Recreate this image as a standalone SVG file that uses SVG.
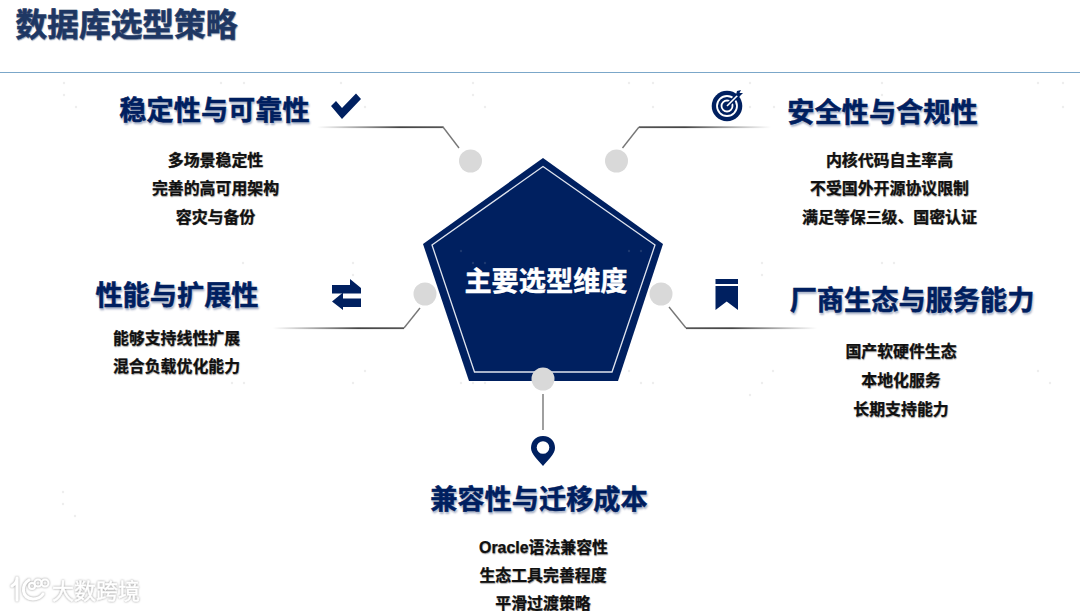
<svg xmlns="http://www.w3.org/2000/svg" width="1080" height="611" viewBox="0 0 1080 611">
<style>
text{font-family:"Liberation Sans","Noto Sans CJK SC",sans-serif;font-weight:700;text-anchor:middle}
.h{font-size:27.2px;fill:#002060;stroke:#002060;stroke-width:.5;text-shadow:1px 1.5px 2px rgba(0,32,96,.3)}
.b{font-size:15.9px;fill:#111;stroke:#111;stroke-width:.25;text-shadow:.5px .5px 1px rgba(0,0,0,.3)}
.d{fill:#eeeeee}
.dd{fill:#1d3a70}
.n{fill:#d9d9d9}
.i{fill:#002060}
.s{stroke:#777;stroke-width:1.4;fill:none}
.w{fill:none;stroke:#fff;stroke-width:3;stroke-linecap:round;stroke-linejoin:round}
</style>
<defs>
<linearGradient id="gl" x1="0" x2="1" y1="0" y2="0"><stop offset="0" stop-color="#555" stop-opacity="0"/><stop offset=".65" stop-color="#444"/><stop offset="1" stop-color="#555"/></linearGradient>
<linearGradient id="gr" x1="0" x2="1" y1="0" y2="0"><stop offset="0" stop-color="#555"/><stop offset=".35" stop-color="#444"/><stop offset="1" stop-color="#555" stop-opacity="0"/></linearGradient>
<filter id="wm" x="-10%" y="-30%" width="120%" height="160%"><feGaussianBlur in="SourceAlpha" stdDeviation="1.1" result="b"/><feFlood flood-color="#8f8f8f"/><feComposite in2="b" operator="in" result="g"/><feMerge><feMergeNode in="g"/><feMergeNode in="SourceGraphic"/></feMerge></filter>
</defs>
<rect width="1080" height="611" fill="#fff"/>
<g id="dots" class="d">
<circle cx="64" cy="83" r="1.2"/><circle cx="64" cy="95" r="1.2"/><circle cx="76" cy="107" r="1.2"/><circle cx="221" cy="83" r="1.2"/><circle cx="244" cy="83" r="1.2"/><circle cx="341" cy="83" r="1.2"/><circle cx="365" cy="107" r="1.2"/><circle cx="473" cy="83" r="1.2"/><circle cx="473" cy="95" r="1.2"/><circle cx="485" cy="107" r="1.2"/><circle cx="629" cy="83" r="1.2"/><circle cx="653" cy="83" r="1.2"/><circle cx="750" cy="83" r="1.2"/><circle cx="653" cy="107" r="1.2"/><circle cx="750" cy="107" r="1.2"/><circle cx="774" cy="107" r="1.2"/><circle cx="882" cy="83" r="1.2"/><circle cx="882" cy="95" r="1.2"/><circle cx="1038" cy="83" r="1.2"/><circle cx="1063" cy="83" r="1.2"/><circle cx="1063" cy="107" r="1.2"/>
<circle cx="243" cy="263" r="1.2"/><circle cx="353" cy="263" r="1.2"/><circle cx="353" cy="275" r="1.2"/><circle cx="365" cy="371" r="1.2"/><circle cx="232" cy="383" r="1.2"/><circle cx="244" cy="383" r="1.2"/><circle cx="353" cy="383" r="1.2"/>
<circle cx="762" cy="263" r="1.2"/><circle cx="882" cy="263" r="1.2"/><circle cx="894" cy="263" r="1.2"/><circle cx="762" cy="275" r="1.2"/><circle cx="773" cy="371" r="1.2"/><circle cx="762" cy="383" r="1.2"/><circle cx="750" cy="395" r="1.2"/><circle cx="1038" cy="371" r="1.2"/><circle cx="1050" cy="383" r="1.2"/>
<circle cx="63" cy="492" r="1.2"/><circle cx="63" cy="504" r="1.2"/><circle cx="75" cy="516" r="1.2"/>
<circle cx="461" cy="383" r="1.2"/><circle cx="473" cy="383" r="1.2"/><circle cx="485" cy="383" r="1.2"/><circle cx="629" cy="371" r="1.2"/><circle cx="641" cy="383" r="1.2"/><circle cx="653" cy="383" r="1.2"/>
</g>
<g id="header">
<text x="126.500" y="36" font-size="31.700" style="fill:#1f3864;stroke:#1f3864;stroke-width:.6;text-shadow:.5px .5px 1px rgba(31,56,100,.4)">数据库选型策略</text>
<rect x="0" y="72" width="1080" height="1" fill="#7ba7c9"/>
</g>
<g id="connectors">
<rect x="317" y="126.300" width="126.500" height="1.800" fill="url(#gl)"/>
<path class="s" d="M443 127L459 148"/>
<rect x="639" y="126.300" width="132" height="1.800" fill="url(#gr)"/>
<path class="s" d="M639 127L622.500 148"/>
<rect x="273" y="327.300" width="131" height="1.800" fill="url(#gl)"/>
<path class="s" d="M404 328L420 308"/>
<rect x="686" y="327.300" width="131" height="1.800" fill="url(#gr)"/>
<path class="s" d="M686 328L669 307"/>
<path class="s" d="M543 394V430"/>
</g>
<g id="center">
<polygon points="543,158 663,244 618,381 469,381 423,244" fill="#002060"/>
<polygon points="543,166.500 655,245 612,372 474.500,372 432,245" fill="none" stroke="#dfe4ee" stroke-width="1.300"/>
<g class="dd"><circle cx="461" cy="251" r="1.200"/><circle cx="473" cy="263" r="1.200"/><circle cx="485" cy="263" r="1.200"/><circle cx="629" cy="251" r="1.200"/><circle cx="641" cy="251" r="1.200"/></g>
<text x="546" y="291" font-size="27.200" fill="#fff" stroke="#fff" stroke-width=".4">主要选型维度</text>
</g>
<g id="node-stability">
<circle class="n" cx="470.500" cy="161" r="11.500"/>
<text class="h" x="214.500" y="120">稳定性与可靠性</text>
<path class="i" d="M331 106L336 101L342 108L356 93.500L361 99L342 119Z"/>
<text class="b" x="215.500" y="165.500">多场景稳定性</text>
<text class="b" x="215.500" y="194">完善的高可用架构</text>
<text class="b" x="215.500" y="222.500">容灾与备份</text>
</g>
<g id="node-security">
<circle class="n" cx="616.500" cy="161" r="11.500"/>
<circle class="i" cx="727" cy="106" r="15.300"/>
<circle cx="727" cy="106" r="10" fill="none" stroke="#fff" stroke-width="1.800"/>
<circle cx="727" cy="106" r="5.500" fill="none" stroke="#fff" stroke-width="1.800"/>
<path d="M727 106L738 95" stroke="#002060" stroke-width="4.500" fill="none"/>
<path d="M727 106L739 94" stroke="#fff" stroke-width="1.600" fill="none"/>
<path class="i" d="M736 95L737 91L741 90L739.500 93L743 93L739 97Z"/>
<text class="h" x="882.500" y="122">安全性与合规性</text>
<text class="b" x="889.500" y="165.500">内核代码自主率高</text>
<text class="b" x="889.500" y="194">不受国外开源协议限制</text>
<text class="b" x="889.500" y="222.500">满足等保三级、国密认证</text>
</g>
<g id="node-performance">
<circle class="n" cx="425" cy="294" r="11.500"/>
<text class="h" x="177" y="305">性能与扩展性</text>
<path class="i" d="M332 285H350V279L361 288V293.500H332Z"/>
<path class="i" d="M332 301.500L343 292.500V298.500H361V307H343V310Z"/>
<text class="b" x="176.500" y="344">能够支持线性扩展</text>
<text class="b" x="176.500" y="372">混合负载优化能力</text>
</g>
<g id="node-vendor">
<circle class="n" cx="661" cy="294" r="11.500"/>
<path class="i" d="M715.500 279H738V284H715.500ZM715.500 286H738V310L726.700 301.500L715.500 310Z"/>
<text class="h" x="912" y="310">厂商生态与服务能力</text>
<text class="b" x="901" y="357">国产软硬件生态</text>
<text class="b" x="901" y="386">本地化服务</text>
<text class="b" x="901" y="415">长期支持能力</text>
</g>
<g id="node-compat">
<circle class="n" cx="543" cy="379" r="11.500"/>
<path class="i" d="M543 436C551 436 555 442 555 448C555 454 548 460 543 466C538 460 531 454 531 448C531 442 535 436 543 436Z"/>
<circle cx="543" cy="447.500" r="6.300" fill="#fff"/>
<text class="h" x="539" y="509">兼容性与迁移成本</text>
<text class="b" x="543.500" y="553">Oracle语法兼容性</text>
<text class="b" x="543" y="581">生态工具完善程度</text>
<text class="b" x="543" y="609">平滑过渡策略</text>
</g>
<g id="watermark" filter="url(#wm)">
<path class="w" d="M12 586C17 583 17 580 17 578V600M29 580C21 585 21 598 33 599C38 599 41 597 43 594"/>
<circle class="w" cx="32" cy="586" r="3" style="stroke-width:2"/>
<circle class="w" cx="38" cy="583" r="3.500" style="stroke-width:2"/>
<circle class="w" cx="45" cy="583" r="3.500" style="stroke-width:2"/>
<text x="96" y="599" font-size="22" fill="#fff" stroke="#fff" stroke-width=".4" style="font-weight:400">大数跨境</text>
</g>
</svg>
